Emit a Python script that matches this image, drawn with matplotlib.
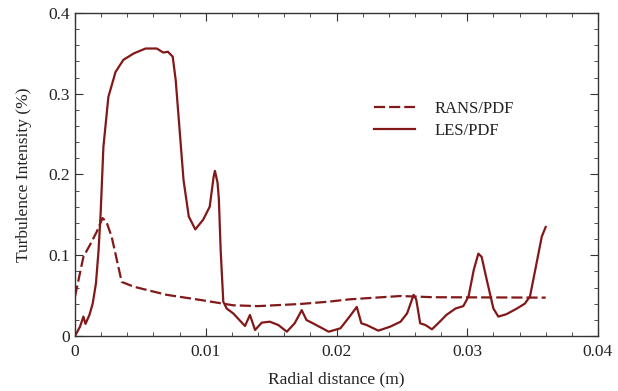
import matplotlib
matplotlib.use("Agg")
import matplotlib.pyplot as plt
from matplotlib.ticker import MultipleLocator

plt.rcParams["font.family"] = ["Liberation Serif", "DejaVu Serif"]

# LES/PDF (solid)
les_x = [0.0, 0.00038, 0.00064, 0.0008, 0.0011, 0.00135, 0.0016, 0.0018, 0.00196, 0.00217,
         0.00255, 0.0031, 0.0037, 0.0045, 0.0054, 0.00625, 0.00675, 0.0071, 0.00747, 0.0077,
         0.0080, 0.0083, 0.0087, 0.0092, 0.0098, 0.0103, 0.0106, 0.0107, 0.0109, 0.0110,
         0.01114, 0.01134, 0.0116, 0.0121, 0.01257, 0.0130, 0.01338, 0.01377, 0.01428, 0.0149,
         0.01555, 0.0162, 0.0168, 0.01734, 0.0177, 0.0182, 0.0194, 0.0203, 0.0210, 0.02155,
         0.0219, 0.0223, 0.0232, 0.0241, 0.0249, 0.0254, 0.0259, 0.0261, 0.0264, 0.0268,
         0.0273, 0.0279, 0.0284, 0.0291, 0.0297, 0.0301, 0.0305, 0.03085, 0.0311, 0.0315,
         0.0320, 0.03238, 0.0330, 0.0338, 0.0344, 0.0348, 0.0353, 0.0357, 0.0360]
les_y = [0.0, 0.0115, 0.024, 0.015, 0.026, 0.040, 0.065, 0.106, 0.152, 0.234,
         0.296, 0.327, 0.342, 0.350, 0.356, 0.356, 0.351, 0.352, 0.346, 0.317,
         0.255, 0.193, 0.148, 0.132, 0.144, 0.160, 0.197, 0.2045, 0.190, 0.170,
         0.106, 0.0425, 0.034, 0.028, 0.0198, 0.0124, 0.026, 0.0074, 0.0165, 0.0177,
         0.0136, 0.0053, 0.0157, 0.032, 0.0198, 0.0157, 0.0053, 0.0095, 0.024, 0.036,
         0.0157, 0.0136, 0.0066, 0.0115, 0.0177, 0.028, 0.051, 0.045, 0.0157, 0.0136,
         0.0083, 0.0177, 0.026, 0.034, 0.037, 0.049, 0.082, 0.102, 0.098, 0.069,
         0.034, 0.024, 0.027, 0.034, 0.040, 0.049, 0.090, 0.123, 0.135]

# RANS/PDF (dashed)
rans_x = [0.0, 0.00064, 0.00115, 0.00166, 0.0021, 0.0024, 0.0028, 0.0032, 0.00357, 0.0045,
          0.0070, 0.0096, 0.0121, 0.0140, 0.0172, 0.0194, 0.0210, 0.0249, 0.0274, 0.0360]
rans_y = [0.049, 0.098, 0.113, 0.129, 0.146, 0.1415, 0.123, 0.094, 0.067, 0.061,
          0.051, 0.0446, 0.038, 0.037, 0.0396, 0.0425, 0.0454, 0.0495, 0.048, 0.0475]

color = "#821818"
text_color = "#222222"

fig = plt.figure(figsize=(6.18, 3.91), dpi=100)
ax = fig.add_axes([0.1214, 0.1407, 0.8462, 0.8261])

ln, = ax.plot(rans_x, rans_y, color=color, lw=1.6, label="RANS/PDF")
ln.set_dashes((5, 1.8))
ax.plot(les_x, les_y, color=color, lw=1.6, label="LES/PDF")

ax.set_xlim(0, 0.04)
ax.set_ylim(0, 0.4)
ax.set_xticks([0, 0.01, 0.02, 0.03, 0.04])
ax.set_xticklabels(["0", "0.01", "0.02", "0.03", "0.04"])
ax.set_yticks([0, 0.1, 0.2, 0.3, 0.4])
ax.set_yticklabels(["0", "0.1", "0.2", "0.3", "0.4"])
ax.xaxis.set_minor_locator(MultipleLocator(0.002))
ax.yaxis.set_minor_locator(MultipleLocator(0.02))
ax.tick_params(which="both", direction="in", top=True, right=True, labelsize=12.5,
               colors="#333333", labelcolor=text_color)
ax.tick_params(which="major", length=6, width=0.8)
ax.tick_params(which="minor", length=3, width=0.6)
ax.tick_params(axis="x", pad=6)
for s in ax.spines.values():
    s.set_color("#333333")
    s.set_linewidth(1.0)

ax.set_xlabel("Radial distance (m)", fontsize=12.5, labelpad=8, color=text_color)
ax.set_ylabel("Turbulence Intensity (%)", fontsize=12.5, labelpad=12, color=text_color)

leg = ax.legend(loc="center left", bbox_to_anchor=(0.543, 0.669), frameon=False, fontsize=12,
                handlelength=2.45, handletextpad=1.2, labelspacing=0.35)
for t in leg.get_texts():
    t.set_color(text_color)

fig.savefig("out.png", dpi=100)
